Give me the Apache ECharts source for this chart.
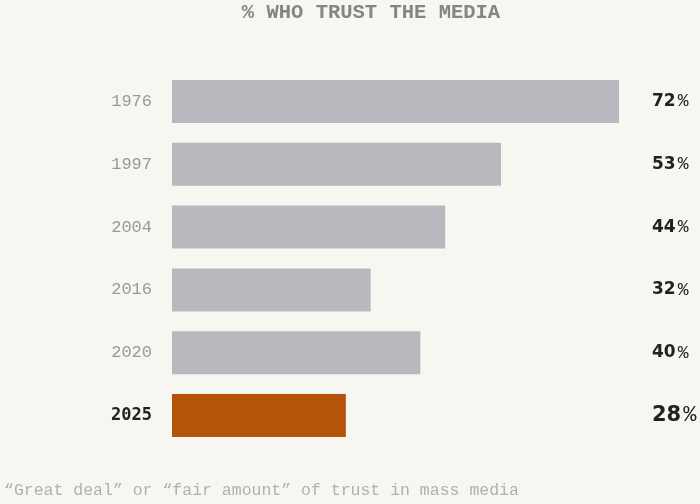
<!DOCTYPE html>
<html>
<head>
<meta charset="utf-8">
<script src="https://cdn.jsdelivr.net/npm/echarts@6/dist/echarts.min.js"></script>
<style>
  html, body { margin: 0; padding: 0; background: #f7f6f1; }
  #chart { width: 700px; height: 504px; }
</style>
</head>
<body>
<div id="chart"></div>
<script>
// data
var years = ['1976', '1997', '2004', '2016', '2020', '2025'];
var trust = [72, 53, 44, 32, 40, 28];
var highlight = '2025';

var grey = '#b8b9be';
var orange = '#b5530a';

var myChart = echarts.init(document.getElementById('chart'));

var barData = [];
for (var i = 0; i < years.length; i++) {
    barData.push({
        value: trust[i],
        itemStyle: { color: years[i] === highlight ? orange : grey }
    });
}

var option = {
    backgroundColor: '#f7f6f1',
    animation: false,
    title: {
        text: '% WHO TRUST THE MEDIA',
        left: 366,
        top: -3,
        textAlign: 'center',
        textStyle: {
            fontFamily: 'Liberation Mono',
            fontWeight: 'bold',
            fontSize: 20.5,
            color: '#858585'
        }
    },
    graphic: [{
        type: 'text',
        left: 4,
        top: 482,
        style: {
            text: '\u201cGreat deal\u201d or \u201cfair amount\u201d of trust in mass media',
            font: '16.5px "Liberation Mono"',
            fill: '#b0b0b0'
        }
    }],
    grid: { left: 172, right: 81, top: 70, bottom: 57 },
    xAxis: {
        type: 'value',
        min: 0,
        max: 72,
        show: false
    },
    yAxis: [{
        type: 'category',
        data: years,
        inverse: true,
        axisLine: { show: false },
        axisTick: { show: false },
        axisLabel: {
            margin: 20,
            formatter: function (v) {
                return v === highlight ? '{hl|' + v + '}' : v;
            },
            fontFamily: 'Liberation Mono',
            fontSize: 17,
            color: '#999999',
            rich: {
                hl: {
                    fontFamily: 'DejaVu Sans Mono',
                    fontWeight: 'bold',
                    fontSize: 17,
                    color: '#222222'
                }
            }
        }
    }, {
        type: 'category',
        data: years,
        inverse: true,
        position: 'right',
        axisLine: { show: false },
        axisTick: { show: false },
        axisLabel: {
            margin: 33,
            align: 'left',
            formatter: function (v, idx) {
                var n = trust[idx];
                if (v === highlight) {
                    return '{bn|' + n + '}{bp|%}';
                }
                return '{n|' + n + '}{p|%}';
            },
            rich: {
                n: {
                    fontFamily: 'DejaVu Sans',
                    fontWeight: 'bold',
                    fontSize: 17,
                    color: '#222222'
                },
                p: {
                    fontFamily: 'Liberation Mono',
                    fontSize: 18,
                    padding: [0, 0, 0, 2],
                    color: '#222222'
                },
                bn: {
                    fontFamily: 'DejaVu Sans',
                    fontWeight: 'bold',
                    fontSize: 21,
                    color: '#222222'
                },
                bp: {
                    fontFamily: 'Liberation Mono',
                    fontSize: 22,
                    padding: [0, 0, 0, 2],
                    color: '#222222'
                }
            }
        }
    }],
    series: [{
        type: 'bar',
        data: barData,
        barCategoryGap: '31.5%',
        silent: true
    }]
};

myChart.setOption(option);
</script>
</body>
</html>
